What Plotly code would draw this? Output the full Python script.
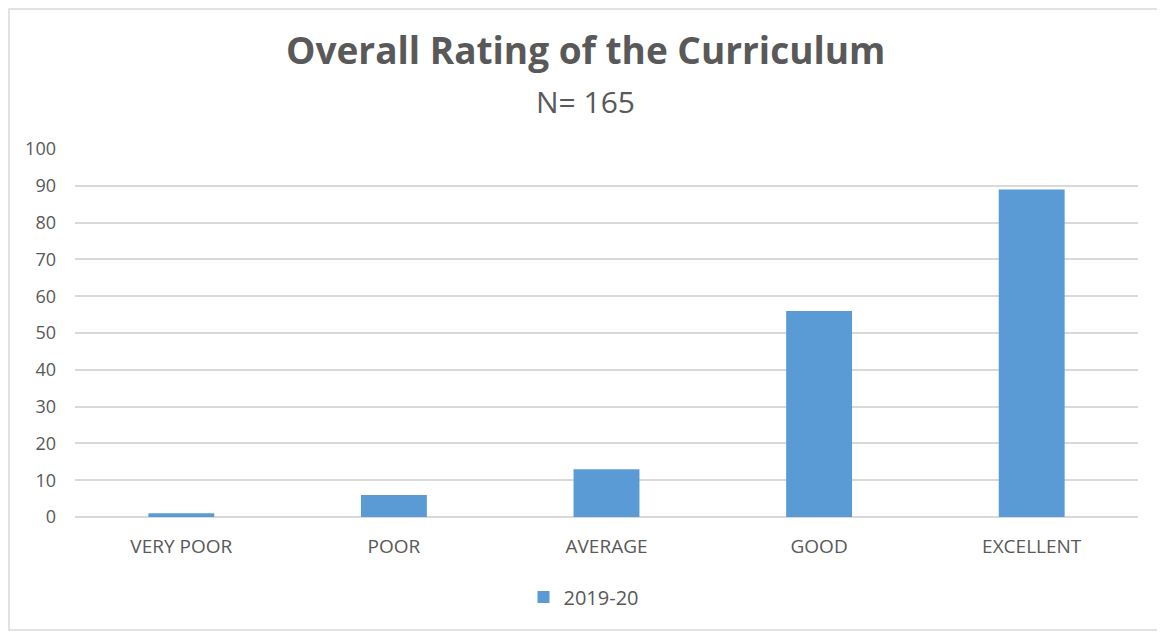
import plotly.graph_objects as go

categories = ["VERY POOR", "POOR", "AVERAGE", "GOOD", "EXCELLENT"]
values_2019_20 = [1, 6, 13, 56, 89]
series_name = "2019-20"
y_ticks = [0, 10, 20, 30, 40, 50, 60, 70, 80, 90, 100]

# page has an 8px body margin, so the figure is placed at (8, 8)
OFF = 8
W, H = 1165 - OFF, 633 - OFF
L, R, T, B = 75 - OFF, 27, 149 - OFF, 116
pw, ph = W - L - R, H - T - B

def px_x(p):
    return (p - OFF - L) / pw

def px_y(p):
    return (H - B - (p - OFF)) / ph

fig = go.Figure()
fig.add_trace(go.Bar(
    x=categories, y=values_2019_20, name=series_name,
    marker=dict(color="#5b9bd5", line=dict(width=0)),
    showlegend=True,
))

fig.update_layout(
    width=W, height=H,
    margin=dict(l=L, r=R, t=T, b=B, autoexpand=False),
    paper_bgcolor="white", plot_bgcolor="white",
    font=dict(family="Open Sans, Noto Sans, sans-serif", color="#595959"),
    bargap=0.69,
    showlegend=True,
    legend=dict(orientation="h", x=px_x(584), xanchor="center", y=px_y(597), yanchor="middle",
                font=dict(size=20, color="#595959"), itemwidth=30),
    xaxis=dict(showgrid=False, showline=False, ticks="", ticklabelstandoff=16,
               tickfont=dict(size=19, color="#595959")),
    yaxis=dict(range=[0, 100], tickvals=y_ticks, showgrid=True, gridcolor="#d9d9d9", gridwidth=1.5,
               zeroline=True, zerolinecolor="#d9d9d9", zerolinewidth=1.5, showline=False,
               ticks="", ticklabelstandoff=18, tickfont=dict(size=18, color="#595959")),
    annotations=[
        dict(text="<b>Overall Rating of the Curriculum</b>", xref="paper", yref="paper",
             x=px_x(585), y=px_y(50), xanchor="center", yanchor="middle", showarrow=False,
             font=dict(size=37, color="#595959")),
        dict(text="N= 165", xref="paper", yref="paper",
             x=px_x(585), y=px_y(101), xanchor="center", yanchor="middle", showarrow=False,
             font=dict(size=30, color="#595959")),
    ],
    shapes=[dict(type="rect", xref="paper", yref="paper",
                 x0=px_x(9), x1=px_x(1161), y0=px_y(630), y1=px_y(9),
                 line=dict(color="#d9d9d9", width=1.5), layer="below")],
)

fig.write_html("out.html")
